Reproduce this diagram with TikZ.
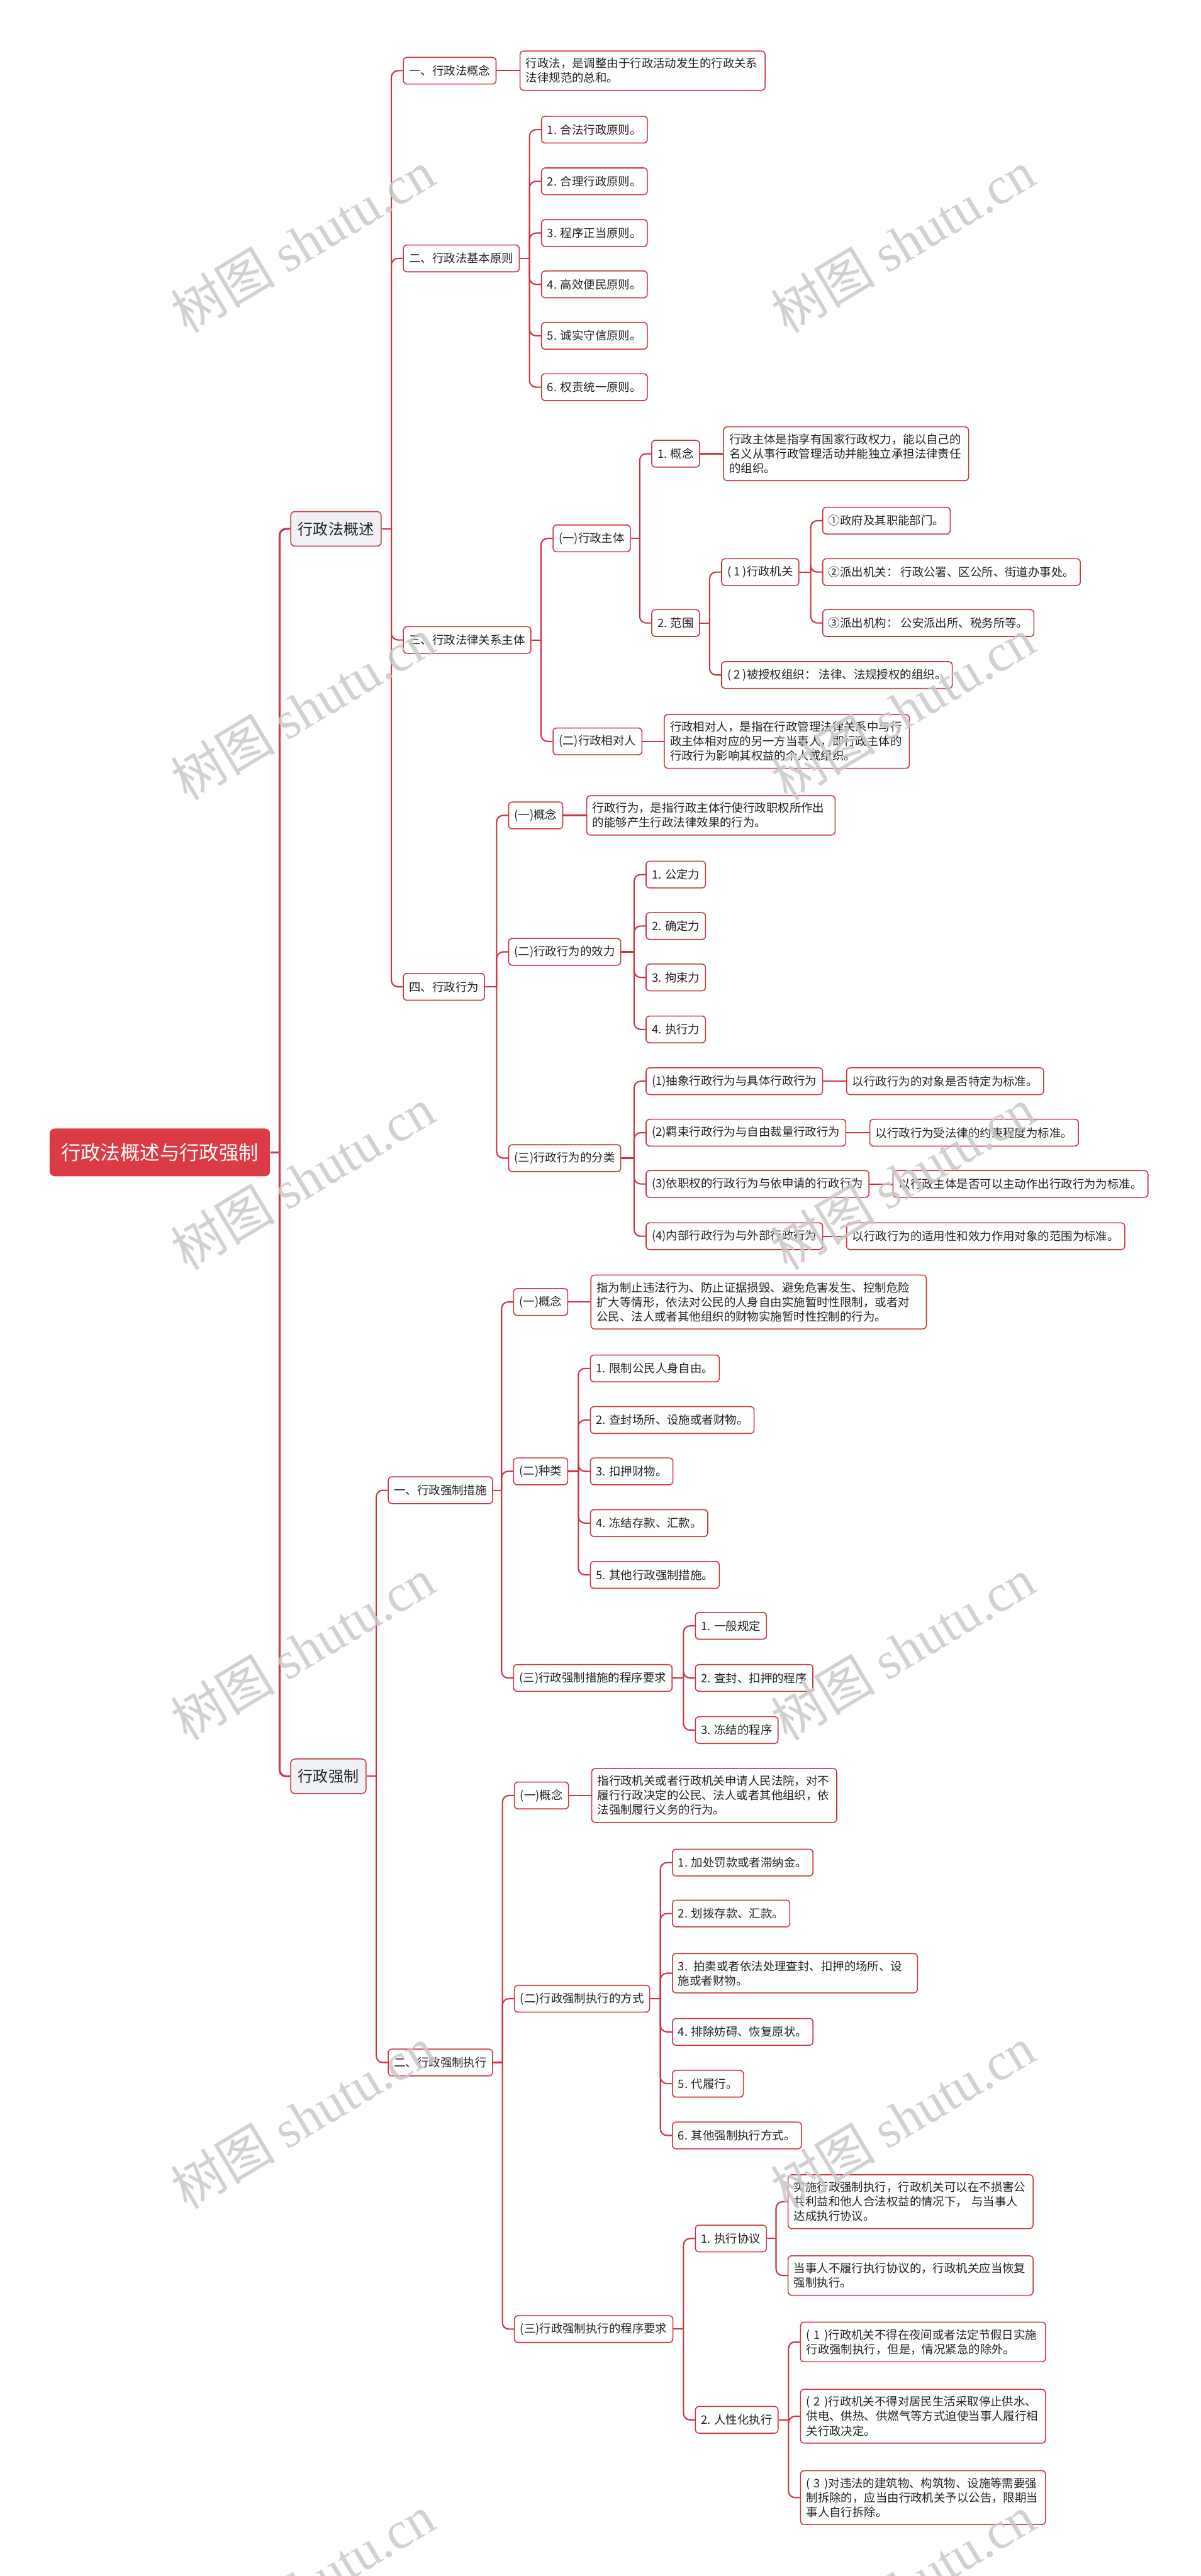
\documentclass[tikz,border=0pt]{standalone}
\usepackage{fontspec}
\setmainfont{Noto Sans CJK SC}
\newfontfamily\wmlat{Liberation Serif}
\newfontfamily\wmcjk{Noto Sans CJK SC}
\usetikzlibrary{calc,positioning}
\definecolor{lred}{RGB}{204,52,62}
\definecolor{rootred}{RGB}{220,59,69}
\definecolor{lvlone}{RGB}{238,241,245}
\definecolor{txt}{RGB}{34,34,34}
\definecolor{wmgray}{RGB}{200,200,200}
\tikzset{
  box/.style={draw=lred, line width=0.6pt, fill=white, rounded corners=2.2pt, text=txt,
    font=\fontsize{7.05}{8.8}\selectfont, inner xsep=3.5pt, inner ysep=4.3pt,
    minimum height=16.3pt, anchor=west, align=left},
  tbox/.style={box, text width=142pt},
  lvlbox/.style={box, fill=lvlone, font=\fontsize{9.2}{11}\selectfont, inner xsep=4.5pt, minimum height=21pt, rounded corners=2.5pt},
  rootbox/.style={draw=none, fill=rootred, text=white, rounded corners=3pt,
    font=\fontsize{12}{14}\selectfont, minimum width=134pt, minimum height=29pt, anchor=west},
  link/.style={draw=lred, line width=0.8pt},
  rootlink/.style={draw=lred, line width=1.2pt},
  wmark/.style={text=wmgray, opacity=0.85, rotate=31, font=\fontsize{32}{36}\selectfont, inner sep=0pt}
}
\newcommand\branch[3]{%
  \coordinate (#1-j) at ($(#2.west)+(-7,0)$);
  \coordinate (#1-k) at (#1-j |- #1.east);
  \draw[link] (#1.east) -- (#1-k);
  \foreach \c in {#3}{\draw[link,rounded corners=4pt] (#1-k) |- (\c.west);}
}
\newcommand\leaf[2]{\draw[link] (#1.east) -- (#2.west);}
\begin{document}
\begin{tikzpicture}[x=1pt,y=-1pt]
\fill[white] (0,0) rectangle (730,1567);
\useasboundingbox (0,0) rectangle (730,1567);

% root and level one
\node[rootbox] (R) at (30,701) {行政法概述与行政强制};
\node[lvlbox] (P1) at (176.5,321.7) {行政法概述};
\node[lvlbox] (P2) at (176.5,1080.5) {行政强制};
\coordinate (R-k) at (170,701);
\draw[rootlink] (R.east) -- (R-k);
\draw[rootlink,rounded corners=4pt] (R-k) |- (P1.west);
\draw[rootlink,rounded corners=4pt] (R-k) |- (P2.west);

% ---------- 行政法概述 ----------
\node[box] (A1) at (245,43) {一、行政法概念};
\node[tbox, right=14pt of A1] (A1t) {行政法，是调整由于行政活动发生的行政关系\\法律规范的总和。};
\node[box] (A2) at (245,157.2) {二、行政法基本原则};
\node[box] (A2a) at (329,78.85) {1. 合法行政原则。};
\node[box] (A2b) at (329,110.3) {2. 合理行政原则。};
\node[box] (A2c) at (329,141.75) {3. 程序正当原则。};
\node[box] (A2d) at (329,173) {4. 高效便民原则。};
\node[box] (A2e) at (329,204.25) {5. 诚实守信原则。};
\node[box] (A2f) at (329,235.5) {6. 权责统一原则。};
\node[box] (A3) at (245,389.3) {三、行政法律关系主体};
\node[box] (A3a) at (336,327.5) {(一)行政主体};
\node[box] (A3a1) at (396,276) {1. 概念};
\node[tbox, right=14pt of A3a1] (A3a1t) {行政主体是指享有国家行政权力，能以自己的\\名义从事行政管理活动并能独立承担法律责任\\的组织。};
\node[box] (A3a2) at (396,379) {2. 范围};
\node[box] (A3a2a) at (438.5,348) {(~1~)行政机关};
\node[box] (A3a2a1) at (500,316.7) {①政府及其职能部门。};
\node[box] (A3a2a2) at (500,348) {②派出机关：~行政公署、区公所、街道办事处。};
\node[box] (A3a2a3) at (500,379) {③派出机构：~公安派出所、税务所等。};
\node[box] (A3a2b) at (438.5,410.6) {(~2~)被授权组织：~法律、法规授权的组织。};
\node[box] (A3b) at (336,451) {(二)行政相对人};
\node[tbox, right=13pt of A3b] (A3bt) {行政相对人，是指在行政管理法律关系中与行\\政主体相对应的另一方当事人，即行政主体的\\行政行为影响其权益的个人或组织。};
\node[box] (A4) at (245,600.3) {四、行政行为};
\node[box] (A4a) at (309,496) {(一)概念};
\node[tbox, right=14pt of A4a, text width=144pt] (A4at) {行政行为，是指行政主体行使行政职权所作出\\的能够产生行政法律效果的行为。};
\node[box] (A4b) at (309,579) {(二)行政行为的效力};
\node[box] (A4b1) at (392.6,532) {1. 公定力};
\node[box] (A4b2) at (392.6,563.3) {2. 确定力};
\node[box] (A4b3) at (392.6,594.6) {3. 拘束力};
\node[box] (A4b4) at (392.6,626.2) {4. 执行力};
\node[box] (A4c) at (309,704.5) {(三)行政行为的分类};
\node[box] (A4c1) at (392.6,657.7) {(1)抽象行政行为与具体行政行为};
\node[box] (A4c2) at (392.6,689) {(2)羁束行政行为与自由裁量行政行为};
\node[box] (A4c3) at (392.6,720.2) {(3)依职权的行政行为与依申请的行政行为};
\node[box] (A4c4) at (392.6,752) {(4)内部行政行为与外部行政行为};
\node[box, right=14pt of A4c1] (A4c1t) {以行政行为的对象是否特定为标准。};
\node[box, right=14pt of A4c2] (A4c2t) {以行政行为受法律的约束程度为标准。};
\node[box, right=14pt of A4c3] (A4c3t) {以行政主体是否可以主动作出行政行为为标准。};
\node[box, right=14pt of A4c4] (A4c4t) {以行政行为的适用性和效力作用对象的范围为标准。};

% ---------- 行政强制 ----------
\node[box] (B1) at (235.8,906.5) {一、行政强制措施};
\node[box] (B1a) at (312,792) {(一)概念};
\node[tbox, right=13.5pt of B1a, text width=197pt] (B1at) {指为制止违法行为、防止证据损毁、避免危害发生、控制危险\\扩大等情形，依法对公民的人身自由实施暂时性限制，或者对\\公民、法人或者其他组织的财物实施暂时性控制的行为。};
\node[box] (B1b) at (312,895) {(二)种类};
\node[box] (B1b1) at (358.7,832.4) {1. 限制公民人身自由。};
\node[box] (B1b2) at (358.7,863.8) {2. 查封场所、设施或者财物。};
\node[box] (B1b3) at (358.7,895) {3. 扣押财物。};
\node[box] (B1b4) at (358.7,926.5) {4. 冻结存款、汇款。};
\node[box] (B1b5) at (358.7,958) {5. 其他行政强制措施。};
\node[box] (B1c) at (312,1020.7) {(三)行政强制措施的程序要求};
\node[box] (B1c1) at (422.6,989) {1. 一般规定};
\node[box] (B1c2) at (422.6,1020.7) {2. 查封、扣押的程序};
\node[box] (B1c3) at (422.6,1052.4) {3. 冻结的程序};
\node[box] (B2) at (235.8,1254.6) {二、行政强制执行};
\node[box] (B2a) at (312.5,1092.2) {(一)概念};
\node[tbox, right=13.5pt of B2a] (B2at) {指行政机关或者行政机关申请人民法院，对不\\履行行政决定的公民、法人或者其他组织，依\\法强制履行义务的行为。};
\node[box] (B2b) at (312.5,1215.8) {(二)行政强制执行的方式};
\node[box] (B2b1) at (408.6,1133) {1. 加处罚款或者滞纳金。};
\node[box] (B2b2) at (408.6,1164) {2. 划拨存款、汇款。};
\node[tbox] (B2b3) at (408.6,1200.3) {3. 拍卖或者依法处理查封、扣押的场所、设\\施或者财物。};
\node[box] (B2b4) at (408.6,1236) {4. 排除妨碍、恢复原状。};
\node[box] (B2b5) at (408.6,1267.5) {5. 代履行。};
\node[box] (B2b6) at (408.6,1299) {6. 其他强制执行方式。};
\node[box] (B2c) at (312.5,1416.8) {(三)行政强制执行的程序要求};
\node[box] (B2c1) at (422.6,1361.7) {1. 执行协议};
\node[tbox] (B2c1a) at (478.9,1339.3) {实施行政强制执行，行政机关可以在不损害公\\共利益和他人合法权益的情况下，~与当事人\\达成执行协议。};
\node[tbox] (B2c1b) at (478.9,1384.2) {当事人不履行执行协议的，行政机关应当恢复\\强制执行。};
\node[box] (B2c2) at (422.6,1472) {2. 人性化执行};
\node[tbox] (B2c2a) at (486.5,1424.6) {(~1~)行政机关不得在夜间或者法定节假日实施\\行政强制执行，但是，情况紧急的除外。};
\node[tbox] (B2c2b) at (486.5,1469.8) {(~2~)行政机关不得对居民生活采取停止供水、\\供电、供热、供燃气等方式迫使当事人履行相\\关行政决定。};
\node[tbox] (B2c2c) at (486.5,1519.3) {(~3~)对违法的建筑物、构筑物、设施等需要强\\制拆除的，应当由行政机关予以公告，限期当\\事人自行拆除。};

% ---------- connectors ----------
\branch{P1}{A1}{A1,A2,A3,A4}
\leaf{A1}{A1t}
\branch{A2}{A2a}{A2a,A2b,A2c,A2d,A2e,A2f}
\branch{A3}{A3a}{A3a,A3b}
\branch{A3a}{A3a1}{A3a1,A3a2}
\leaf{A3a1}{A3a1t}
\branch{A3a2}{A3a2a}{A3a2a,A3a2b}
\branch{A3a2a}{A3a2a1}{A3a2a1,A3a2a2,A3a2a3}
\leaf{A3b}{A3bt}
\branch{A4}{A4a}{A4a,A4b,A4c}
\leaf{A4a}{A4at}
\branch{A4b}{A4b1}{A4b1,A4b2,A4b3,A4b4}
\branch{A4c}{A4c1}{A4c1,A4c2,A4c3,A4c4}
\leaf{A4c1}{A4c1t}
\leaf{A4c2}{A4c2t}
\leaf{A4c3}{A4c3t}
\leaf{A4c4}{A4c4t}
\branch{P2}{B1}{B1,B2}
\branch{B1}{B1a}{B1a,B1b,B1c}
\leaf{B1a}{B1at}
\branch{B1b}{B1b1}{B1b1,B1b2,B1b3,B1b4,B1b5}
\branch{B1c}{B1c1}{B1c1,B1c2,B1c3}
\branch{B2}{B2a}{B2a,B2b,B2c}
\leaf{B2a}{B2at}
\branch{B2b}{B2b1}{B2b1,B2b2,B2b3,B2b4,B2b5,B2b6}
\branch{B2c}{B2c1}{B2c1,B2c2}
\branch{B2c1}{B2c1a}{B2c1a,B2c1b}
\branch{B2c2}{B2c2a}{B2c2a,B2c2b,B2c2c}

% ---------- watermarks ----------
\foreach \wy [count=\i] in {147,431,717,1003,1288,1573}{
  \node[wmark] (wl\i) at (184,\wy) {{\wmcjk 树图} {\wmlat shutu.cn}};
  \node[wmark] (wr\i) at (549,\wy) {{\wmcjk 树图} {\wmlat shutu.cn}};
}
\end{tikzpicture}
\end{document}
